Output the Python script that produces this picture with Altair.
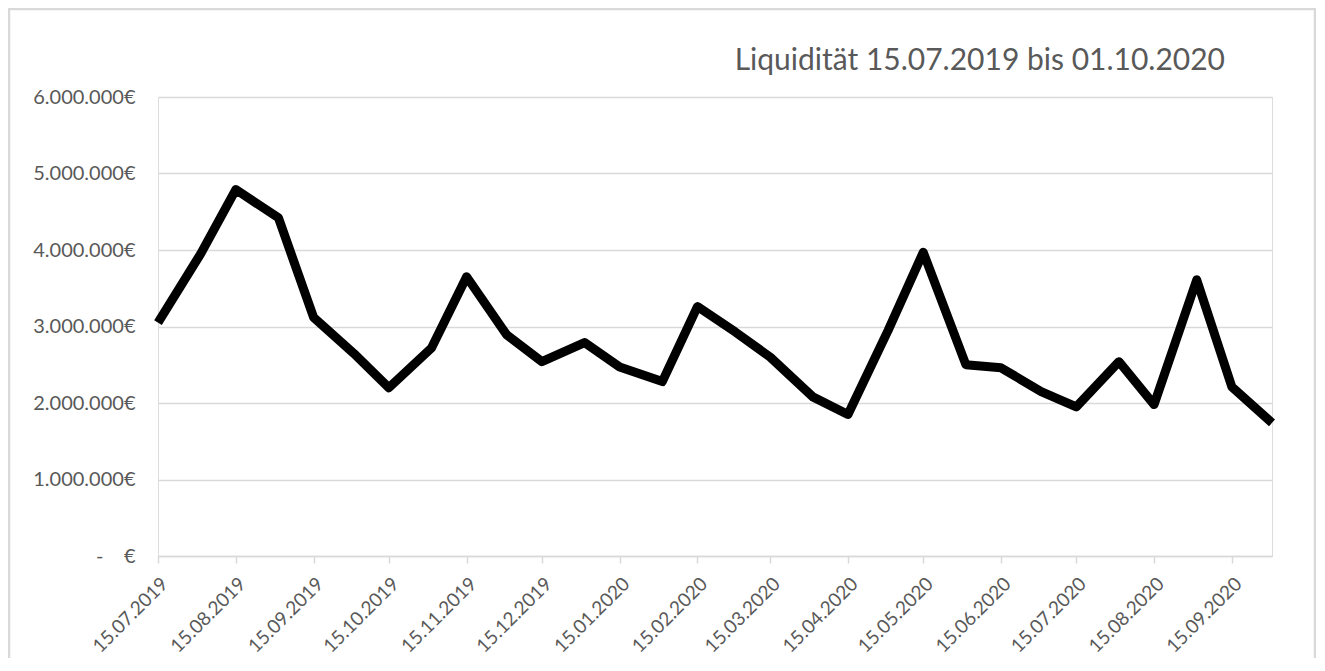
import altair as alt
import pandas as pd

dates = ["2019-07-15", "2019-08-01", "2019-08-15", "2019-09-01", "2019-09-15",
         "2019-10-01", "2019-10-15", "2019-11-01", "2019-11-15", "2019-12-01",
         "2019-12-15", "2020-01-01", "2020-01-15", "2020-02-01", "2020-02-15",
         "2020-03-01", "2020-03-15", "2020-04-01", "2020-04-15", "2020-05-01",
         "2020-05-15", "2020-06-01", "2020-06-15", "2020-07-01", "2020-07-15",
         "2020-08-01", "2020-08-15", "2020-09-01", "2020-09-15", "2020-10-01"]
liquiditaet = [3050000, 3950000, 4790000, 4420000, 3120000,
               2650000, 2200000, 2720000, 3650000, 2890000,
               2540000, 2790000, 2470000, 2280000, 3260000,
               2930000, 2600000, 2080000, 1850000, 2950000,
               3970000, 2500000, 2460000, 2150000, 1950000,
               2540000, 1980000, 3610000, 2210000, 1740000]
tick_months = [(2019, 7), (2019, 8), (2019, 9), (2019, 10), (2019, 11), (2019, 12),
               (2020, 1), (2020, 2), (2020, 3), (2020, 4), (2020, 5), (2020, 6),
               (2020, 7), (2020, 8), (2020, 9)]
y_ticks = [0, 1000000, 2000000, 3000000, 4000000, 5000000, 6000000]
title_text = "Liquidität 15.07.2019 bis 01.10.2020"

df = pd.DataFrame({"Datum": [d + "T00:00:00" for d in dates], "Wert": liquiditaet})

W, H = 1114, 459
GRAY = "#595959"
LIGHT = "#d9d9d9"
FONT = "Lato"

x_ticks = [alt.DateTime(year=y, month=m, date=15) for y, m in tick_months]

y_label = ("datum.value == 0 ? '-\u00a0\u00a0\u00a0\u00a0€' : "
           "replace(replace(format(datum.value, ',.0f'), ',', '.'), ',', '.') + '€'")

line = alt.Chart(df).mark_line(
    color="black", strokeWidth=9, strokeJoin="round", strokeCap="butt"
).encode(
    x=alt.X("Datum:T",
            scale=alt.Scale(domain=[alt.DateTime(year=2019, month=7, date=15),
                                    alt.DateTime(year=2020, month=10, date=1)]),
            axis=alt.Axis(values=x_ticks, format="%d.%m.%Y", title=None,
                          labelAngle=-45, labelFontSize=19, labelFont=FONT,
                          labelColor=GRAY, labelPadding=11, labelOverlap=False,
                          labelFlush=False, labelBound=False,
                          domainColor=LIGHT, domainWidth=1.5,
                          tickColor=LIGHT, tickWidth=1.5, tickSize=7, grid=False)),
    y=alt.Y("Wert:Q",
            scale=alt.Scale(domain=[0, 6000000], nice=False),
            axis=alt.Axis(values=y_ticks, title=None, labelExpr=y_label,
                          labelFontSize=20, labelFont=FONT, labelColor=GRAY,
                          labelPadding=23, domain=False, ticks=False,
                          grid=True, gridColor=LIGHT, gridWidth=1.5)),
)

border = alt.Chart(pd.DataFrame({"a": [0]})).mark_rect(
    fillOpacity=0, stroke=LIGHT, strokeWidth=2.5
).encode(
    x=alt.value(-149), x2=alt.value(1157),
    y=alt.value(-88), y2=alt.value(H + 150),
)

chart = alt.layer(border, line).properties(
    width=W, height=H,
    title=alt.TitleParams(title_text, anchor="end", frame="group", dx=-47, dy=80,
                          fontSize=30, font=FONT, fontWeight="normal",
                          color=GRAY, offset=12),
    autosize=alt.AutoSizeParams(type="none"),
    padding={"left": 150, "top": 89, "right": 44, "bottom": 102},
).configure_view(stroke=None).configure(background="white")

chart.save("out.html", embed_options={"renderer": "svg", "actions": False})
